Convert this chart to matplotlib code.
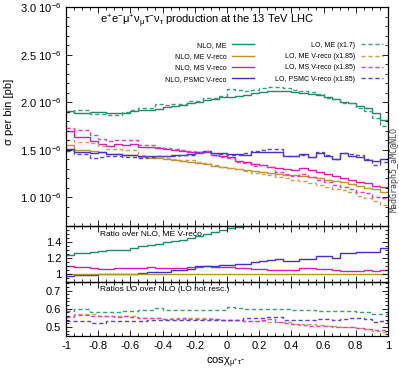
import numpy as np
import matplotlib
matplotlib.use('Agg')
import matplotlib.pyplot as plt
from matplotlib.ticker import MultipleLocator, FixedLocator, FuncFormatter
from matplotlib.lines import Line2D

plt.rcParams['font.family'] = ['Liberation Sans', 'DejaVu Sans']
plt.rcParams['mathtext.fontset'] = 'custom'
plt.rcParams['mathtext.rm'] = 'Liberation Sans'
plt.rcParams['mathtext.it'] = 'Liberation Sans:italic'
plt.rcParams['mathtext.default'] = 'regular'
plt.rcParams['axes.unicode_minus'] = False

# ---------------- data (units of 1e-6 pb per bin), 40 bins in cos chi ----------------
bin_edges = np.linspace(-1.0, 1.0, 41)

nlo_me = np.array([1.91, 1.89, 1.89, 1.90, 1.90, 1.89, 1.89, 1.89, 1.91, 1.92,
                   1.92, 1.93, 1.95, 1.96, 1.97, 1.99, 2.00, 2.02, 2.03, 2.05,
                   2.06, 2.07, 2.08, 2.10, 2.11, 2.12, 2.12, 2.12, 2.11, 2.10,
                   2.09, 2.08, 2.05, 2.03, 2.00, 1.99, 1.96, 1.94, 1.89, 1.81])

nlo_me_vreco = np.array([1.55, 1.50, 1.50, 1.49, 1.48, 1.46, 1.46, 1.45, 1.45, 1.42,
                         1.41, 1.41, 1.40, 1.39, 1.38, 1.37, 1.36, 1.35, 1.33, 1.32,
                         1.31, 1.30, 1.29, 1.28, 1.27, 1.26, 1.25, 1.24, 1.235, 1.23,
                         1.21, 1.20, 1.18, 1.17, 1.16, 1.14, 1.12, 1.10, 1.09, 1.06])

nlo_ms_vreco = np.array([1.697, 1.631, 1.631, 1.590, 1.566, 1.545, 1.562, 1.552, 1.559, 1.527,
                         1.533, 1.516, 1.505, 1.494, 1.484, 1.480, 1.469, 1.478, 1.446, 1.435,
                         1.424, 1.387, 1.376, 1.354, 1.344, 1.317, 1.306, 1.296, 1.291, 1.312,
                         1.291, 1.270, 1.248, 1.223, 1.203, 1.182, 1.161, 1.150, 1.123, 1.113])

nlo_psmc_vreco = np.array([1.504, 1.473, 1.473, 1.463, 1.473, 1.453, 1.453, 1.443, 1.443, 1.434,
                           1.431, 1.438, 1.435, 1.446, 1.442, 1.452, 1.482, 1.485, 1.463, 1.465,
                           1.454, 1.456, 1.445, 1.472, 1.473, 1.474, 1.475, 1.438, 1.433, 1.451,
                           1.428, 1.464, 1.440, 1.404, 1.462, 1.436, 1.422, 1.397, 1.384, 1.399])

# LO / NLO ratios (LO not rescaled)
lo_nlo_me = np.array([0.585, 0.598, 0.598, 0.582, 0.580, 0.582, 0.580, 0.590, 0.590, 0.594,
                      0.595, 0.605, 0.594, 0.594, 0.592, 0.594, 0.592, 0.594, 0.592, 0.594,
                      0.610, 0.605, 0.598, 0.597, 0.598, 0.600, 0.600, 0.596, 0.594, 0.594,
                      0.592, 0.590, 0.588, 0.588, 0.586, 0.588, 0.582, 0.580, 0.572, 0.570])

lo_nlo_me_vreco = np.array([0.558, 0.571, 0.571, 0.571, 0.562, 0.560, 0.560, 0.558, 0.560, 0.550,
                            0.548, 0.548, 0.545, 0.547, 0.545, 0.548, 0.547, 0.547, 0.545, 0.540,
                            0.540, 0.540, 0.535, 0.530, 0.530, 0.528, 0.525, 0.525, 0.518, 0.514,
                            0.514, 0.510, 0.507, 0.505, 0.500, 0.500, 0.492, 0.490, 0.478, 0.470])

lo_nlo_ms_vreco = np.array([0.552, 0.565, 0.565, 0.562, 0.558, 0.558, 0.556, 0.558, 0.555, 0.548,
                            0.547, 0.547, 0.545, 0.545, 0.547, 0.545, 0.545, 0.545, 0.542, 0.536,
                            0.536, 0.536, 0.534, 0.530, 0.540, 0.543, 0.525, 0.520, 0.515, 0.513,
                            0.507, 0.505, 0.505, 0.502, 0.500, 0.500, 0.492, 0.490, 0.485, 0.482])

lo_nlo_psmc_vreco = np.array([0.534, 0.535, 0.535, 0.522, 0.522, 0.534, 0.534, 0.534, 0.535, 0.534,
                              0.540, 0.540, 0.540, 0.538, 0.540, 0.540, 0.537, 0.536, 0.536, 0.538,
                              0.536, 0.536, 0.549, 0.548, 0.548, 0.552, 0.552, 0.540, 0.540, 0.538,
                              0.538, 0.544, 0.544, 0.540, 0.542, 0.549, 0.549, 0.545, 0.525, 0.530])

lo_scale = [1.7, 1.85, 1.85, 1.85]
nlo_labels = ['NLO, ME', 'NLO, ME V-reco', 'NLO, MS V-reco', 'NLO, PSMC V-reco']
lo_labels = ['LO, ME (x1.7)', 'LO, ME V-reco (x1.85)', 'LO, MS V-reco (x1.85)', 'LO, PSMC V-reco (x1.85)']

# ---------------- style ----------------
c_nlo = ['#23876a', '#c0902a', '#d21fb0', '#4632c0']
c_lo = ['#3a9e7c', '#c9a255', '#e040c0', '#5545cc']
dash = (0, (3.0, 2.0))
unit = 1e-6

W, H = 399, 371
fig = plt.figure(figsize=(W / 100, H / 100), dpi=100)
L, R = 66, 388
def box(top, bot):
    return [L / W, 1 - bot / H, (R - L) / W, (bot - top) / H]

ax_main = fig.add_axes(box(7, 226))
ax_mid = fig.add_axes(box(226, 281.5))
ax_bot = fig.add_axes(box(281.5, 336))

nlo = [nlo_me, nlo_me_vreco, nlo_ms_vreco, nlo_psmc_vreco]
lo_ratio = [lo_nlo_me, lo_nlo_me_vreco, lo_nlo_ms_vreco, lo_nlo_psmc_vreco]

# main panel
for k in range(4):
    ax_main.stairs(nlo[k] * unit, bin_edges, baseline=None, color=c_nlo[k], lw=1.0)
for k in range(4):
    ax_main.stairs(lo_ratio[k] * nlo[k] * lo_scale[k] * unit, bin_edges, baseline=None,
                   color=c_lo[k], lw=1.0, linestyle=dash)

# middle: ratio over NLO ME V-reco
for k in [0, 2, 3, 1]:
    ax_mid.stairs(nlo[k] / nlo_me_vreco, bin_edges, baseline=None, color=c_nlo[k], lw=1.0)

# bottom: LO / NLO
for k in range(4):
    ax_bot.stairs(lo_ratio[k], bin_edges, baseline=None, color=c_lo[k], lw=1.0, linestyle=dash)

# axes formatting
tickfs = 8
for ax in (ax_main, ax_mid, ax_bot):
    ax.set_xlim(-1, 1)
    ax.xaxis.set_major_locator(MultipleLocator(0.2))
    ax.xaxis.set_minor_locator(MultipleLocator(0.05))
    ax.tick_params(which='both', direction='in', top=True, right=True, labelsize=tickfs, width=0.6)
    ax.tick_params(which='major', length=4)
    ax.tick_params(which='minor', length=2)
    for s in ax.spines.values():
        s.set_linewidth(0.9)
    ax.set_facecolor('none')

ax_main.set_ylim(0.7e-6, 3.0e-6)
ax_main.yaxis.set_major_locator(MultipleLocator(0.5e-6))
ax_main.yaxis.set_minor_locator(MultipleLocator(0.1e-6))
ax_main.yaxis.set_major_formatter(FuncFormatter(lambda v, p: f"{v * 1e6:.1f} 10$^{{-6}}$"))
ax_main.tick_params(labelbottom=False)

ax_mid.set_ylim(0.9, 1.6)
ax_mid.yaxis.set_major_locator(FixedLocator([1.0, 1.2, 1.4]))
ax_mid.yaxis.set_minor_locator(MultipleLocator(0.05))
ax_mid.yaxis.set_major_formatter(FuncFormatter(lambda v, p: f"{round(v, 2):g}"))
ax_mid.tick_params(labelbottom=False)

ax_bot.set_ylim(0.45, 0.75)
ax_bot.yaxis.set_major_locator(FixedLocator([0.5, 0.6, 0.7]))
ax_bot.yaxis.set_minor_locator(MultipleLocator(0.02))
ax_bot.yaxis.set_major_formatter(FuncFormatter(lambda v, p: f"{round(v, 2):g}"))
def xfmt(v, p):
    s = f"{round(v, 2):g}"
    return "0" if s == "-0" else s
ax_bot.xaxis.set_major_formatter(FuncFormatter(xfmt))

# texts
ax_main.text(0.106, 0.935, "e$^{+}$e$^{-}$μ$^{+}$ν$_{μ}$τ$^{-}$ν$_{τ}$ production at the 13 TeV LHC",
             transform=ax_main.transAxes, ha='left', va='center', fontsize=8)
ax_mid.text(0.106, 0.86, "Ratio over NLO, ME V-reco", transform=ax_mid.transAxes,
            ha='left', va='center', fontsize=6)
ax_bot.text(0.106, 0.86, "Ratios LO over NLO (LO not resc.)", transform=ax_bot.transAxes,
            ha='left', va='center', fontsize=6)

fig.text(9 / W, 1 - 112 / H, "σ per bin [pb]", rotation=90, ha='center', va='center', fontsize=8)
fig.text(226 / W, 1 - 363 / H, "cosχ$_{μ^{+}τ^{-}}$", ha='center', va='center', fontsize=8)
fig.text(394 / W, 1 - 170 / H, "MadGraph5_aMC@NLO", rotation=90, ha='center', va='center',
         fontsize=6, family='DejaVu Sans Mono', color='#444444')

# legend (labels left of the line, gnuplot style)
handles = [Line2D([], [], color=c_nlo[k], lw=1.0) for k in range(4)] + \
          [Line2D([], [], color=c_lo[k], lw=1.0, linestyle=dash) for k in range(4)]
labels = nlo_labels + lo_labels
ax_main.legend(handles, labels, ncol=2, markerfirst=False, frameon=False, fontsize=5,
               loc='upper right', bbox_to_anchor=(0.995, 0.857), handlelength=3.2,
               labelspacing=0.62, columnspacing=3.0, handletextpad=0.8, borderpad=0.0)

fig.savefig('out.png', dpi=100)
